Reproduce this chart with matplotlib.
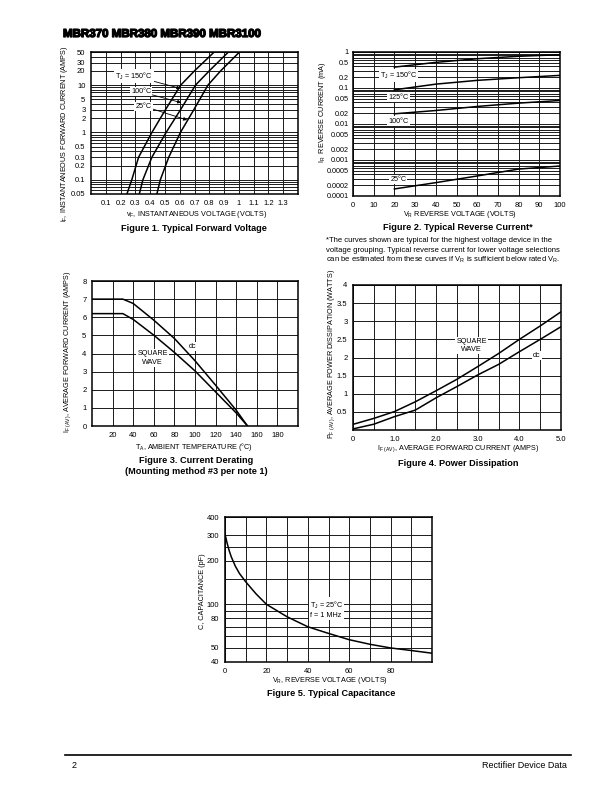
import numpy as np
import matplotlib
matplotlib.use('Agg')
import matplotlib.pyplot as plt
import matplotlib.patheffects as pe

plt.rcParams['font.family'] = ['Liberation Sans Narrow', 'Liberation Sans', 'DejaVu Sans']
plt.rcParams['mathtext.fontset'] = 'custom'
plt.rcParams['mathtext.rm'] = 'Liberation Sans'

W, H = 610, 793

# Figure 1 - forward voltage (volts) vs current (amps)
fwd_i = [0.045, 0.1, 0.3, 1, 3, 10, 20, 60]
fwd_v150 = [0.238, 0.276, 0.322, 0.412, 0.503, 0.607, 0.70, 0.86]
fwd_v100 = [0.323, 0.351, 0.412, 0.508, 0.605, 0.707, 0.80, 0.955]
fwd_v25 = [0.442, 0.469, 0.526, 0.605, 0.695, 0.791, 0.877, 1.03]

# Figure 2 - reverse current (mA) vs reverse voltage
rev_v = [20, 40, 60, 80, 100]
rev_i150 = [0.38, 0.515, 0.65, 0.76, 0.84]
rev_i125 = [0.089, 0.128, 0.163, 0.193, 0.224]
rev_i100 = [0.0192, 0.0237, 0.0307, 0.038, 0.045]
rev_i25 = [0.000157, 0.000235, 0.00036, 0.00056, 0.00068]

# Figure 3 - current derating
der_t = [0, 30, 40, 60, 80, 100, 120, 140, 151]
der_dc = [7.0, 7.0, 6.76, 5.84, 4.83, 3.6, 2.25, 0.87, 0]
der_sq = [6.2, 6.2, 5.88, 5.01, 4.06, 3.04, 1.88, 0.72, 0]

# Figure 4 - power dissipation
pd_i = [0, 0.5, 1.0, 1.5, 2.0, 2.5, 3.0, 3.5, 4.0, 4.5, 5.0]
pd_sq = [0.156, 0.32, 0.51, 0.78, 1.085, 1.40, 1.75, 2.11, 2.50, 2.87, 3.26]
pd_dc = [0.03, 0.16, 0.37, 0.55, 0.89, 1.2, 1.52, 1.81, 2.16, 2.5, 2.85]

# Figure 5 - capacitance
cap_v = [0, 1, 2, 3, 5, 7, 10, 15, 20, 30, 40, 50, 60, 70, 80, 90, 100]
cap_c = [305, 265, 235, 213, 183, 163, 143, 118, 100, 82, 70, 63, 57, 53, 50, 48, 46]

fig = plt.figure(figsize=(W / 100, H / 100), dpi=100)

TICK = 5.5
LAB = 5.2
CAP = 6.6
GRID = dict(color='#1a1a1a', lw=0.7)


def px_axes(l, t, r, b):
    return fig.add_axes([l / W, 1 - b / H, (r - l) / W, (b - t) / H])


def ftext(x, y, s, **kw):
    kw.setdefault('ha', 'center')
    kw.setdefault('va', 'center')
    return fig.text(x / W, 1 - y / H, s, **kw)


def style(ax):
    for sp in ax.spines.values():
        sp.set_linewidth(1.1)
    ax.tick_params(length=0, labelsize=TICK, pad=4)
    ax.tick_params(which='minor', length=0)


def box():
    return dict(boxstyle='square,pad=0.15', fc='white', ec='none')


def arrow(ax, txt, xy, xytext):
    ax.annotate(txt, xy=xy, xytext=xytext, fontsize=LAB, ha='left', va='center',
                bbox=box(),
                arrowprops=dict(arrowstyle='-|>', lw=0.6, color='black',
                                mutation_scale=5, shrinkA=0, shrinkB=0))


t = ftext(63, 34, 'MBR370 MBR380 MBR390 MBR3100', ha='left', fontsize=8.3,
          fontweight='bold', family=['Liberation Sans'])
t.set_path_effects([pe.withStroke(linewidth=0.9, foreground='black')])

# ---- Figure 1
ax = px_axes(91, 52, 298, 194)
ax.set_yscale('log')
ax.set_xlim(0, 1.4)
ax.set_ylim(0.05, 50)
xt = [0.1, 0.2, 0.3, 0.4, 0.5, 0.6, 0.7, 0.8, 0.9, 1.0, 1.1, 1.2, 1.3]
ax.set_xticks(xt)
ax.set_xticklabels(['0.1', '0.2', '0.3', '0.4', '0.5', '0.6', '0.7', '0.8', '0.9', '1', '1.1', '1.2', '1.3'])
yt = [0.05, 0.1, 0.2, 0.3, 0.5, 1, 2, 3, 5, 10, 20, 30, 50]
ax.set_yticks(yt)
ax.set_yticklabels(['0.05', '0.1', '0.2', '0.3', '0.5', '1', '2', '3', '5', '10', '20', '30', '50'])
ax.yaxis.set_minor_locator(matplotlib.ticker.LogLocator(subs=np.arange(1, 10)))
ax.yaxis.set_minor_formatter(matplotlib.ticker.NullFormatter())
ax.grid(True, which='both', **GRID)
style(ax)
for v in (fwd_v150, fwd_v100, fwd_v25):
    ax.plot(v, fwd_i, color='black', lw=1.1)
arrow(ax, 'T$\\mathregular{_J}$ = 150°C', (0.605, 8.5), (0.165, 15.5))
arrow(ax, '100°C', (0.61, 4.25), (0.27, 7.2))
arrow(ax, '25°C', (0.65, 1.83), (0.30, 3.6))
ftext(64, 134, 'i$\\mathregular{_F}$, INSTANTANEOUS FORWARD CURRENT (AMPS)', rotation=90, fontsize=LAB)
ftext(197, 214, 'v$\\mathregular{_F}$, INSTANTANEOUS VOLTAGE (VOLTS)', fontsize=LAB)
ftext(194, 229, 'Figure 1. Typical Forward Voltage', fontsize=CAP, fontweight='bold')

# ---- Figure 2
ax = px_axes(353, 52, 560, 196)
ax.set_yscale('log')
ax.set_xlim(0, 100)
ax.set_ylim(0.0001, 1)
ax.set_xticks(range(0, 101, 10))
yt = [0.0001, 0.0002, 0.0005, 0.001, 0.002, 0.005, 0.01, 0.02, 0.05, 0.1, 0.2, 0.5, 1]
ax.set_yticks(yt)
ax.set_yticklabels(['0.0001', '0.0002', '0.0005', '0.001', '0.002', '0.005', '0.01', '0.02',
                    '0.05', '0.1', '0.2', '0.5', '1'])
ax.yaxis.set_minor_locator(matplotlib.ticker.LogLocator(subs=np.arange(1, 10)))
ax.yaxis.set_minor_formatter(matplotlib.ticker.NullFormatter())
ax.grid(True, which='both', **GRID)
style(ax)
ax.tick_params(axis='y', labelsize=5.2, pad=3)
for c in (rev_i150, rev_i125, rev_i100, rev_i25):
    ax.plot(rev_v, c, color='black', lw=1.1)
for s, x, y in [('T$\\mathregular{_J}$ = 150°C', 13, 0.22), ('125°C', 17, 0.056),
                ('100°C', 17, 0.0121), ('25°C', 18, 0.00028)]:
    ax.text(x, y, s, fontsize=LAB, ha='left', va='center', bbox=box())
ftext(322, 112, 'I$\\mathregular{_R}$  REVERSE CURRENT (mA)', rotation=90, fontsize=LAB)
ftext(460, 214, 'V$\\mathregular{_R}$ REVERSE VOLTAGE (VOLTS)', fontsize=LAB)
ftext(458, 228, 'Figure 2. Typical Reverse Current*', fontsize=CAP, fontweight='bold')
note = ['*The curves shown are typical for the highest voltage device in the',
        'voltage grouping. Typical reverse current for lower voltage selections',
        'can be estimated from these curves if V$\\mathregular{_R}$ is sufficient below rated V$\\mathregular{_R}$.']
for k, line in enumerate(note):
    ftext(326, 240 + 10 * k, line, ha='left', fontsize=5.5)

# ---- Figure 3
ax = px_axes(92, 281, 298, 426)
ax.set_xlim(0, 200)
ax.set_ylim(0, 8)
ax.set_xticks(range(20, 181, 20))
ax.set_yticks(range(0, 9))
ax.grid(True, **GRID)
style(ax)
ax.plot(der_t, der_dc, color='black', lw=1.1)
ax.plot(der_t, der_sq, color='black', lw=1.1)
ax.text(98, 4.37, 'dc', fontsize=LAB, ha='center', va='center', bbox=box())
ax.text(59, 3.75, 'SQUARE\nWAVE', fontsize=LAB, ha='center', va='center', bbox=box(), linespacing=1.3)
ftext(68, 352, 'I$\\mathregular{_{F\\ (AV)}}$, AVERAGE FORWARD CURRENT (AMPS)', rotation=90, fontsize=LAB)
ftext(194, 447, 'T$\\mathregular{_A}$, AMBIENT TEMPERATURE (°C)', fontsize=LAB)
ftext(196, 460, 'Figure 3. Current Derating', fontsize=CAP, fontweight='bold')
ftext(196, 472, '(Mounting method #3 per note 1)', fontsize=CAP, fontweight='bold')

# ---- Figure 4
ax = px_axes(353, 285, 561, 430)
ax.set_xlim(0, 5)
ax.set_ylim(0, 4)
ax.set_xticks(np.arange(0, 5.01, 0.5))
ax.set_xticklabels(['0', '', '1.0', '', '2.0', '', '3.0', '', '4.0', '', '5.0'])
ax.set_yticks(np.arange(0, 4.01, 0.5))
ax.set_yticklabels(['', '0.5', '1', '1.5', '2', '2.5', '3', '3.5', '4'])
ax.grid(True, **GRID)
style(ax)
ax.plot(pd_i, pd_sq, color='black', lw=1.1)
ax.plot(pd_i, pd_dc, color='black', lw=1.1)
ax.text(2.85, 2.33, 'SQUARE\nWAVE', fontsize=LAB, ha='center', va='center', bbox=box(), linespacing=1.3)
ax.text(4.42, 2.05, 'dc', fontsize=LAB, ha='center', va='center', bbox=box())
ftext(332, 354, 'P$\\mathregular{_{F\\ (AV)}}$, AVERAGE POWER DISSIPATION (WATTS)', rotation=90, fontsize=LAB)
ftext(458, 449, 'I$\\mathregular{_{F\\ (AV)}}$, AVERAGE FORWARD CURRENT (AMPS)', fontsize=LAB)
ftext(458, 463, 'Figure 4. Power Dissipation', fontsize=CAP, fontweight='bold')

# ---- Figure 5
ax = px_axes(225, 517, 432, 662)
ax.set_yscale('log')
ax.set_xlim(0, 100)
ax.set_ylim(40, 400)
ax.set_xticks(range(0, 101, 10))
ax.set_xticklabels(['0', '', '20', '', '40', '', '60', '', '80', '', ''])
ax.set_yticks([40, 50, 60, 70, 80, 90, 100, 150, 200, 250, 300, 400])
ax.set_yticklabels(['40', '50', '', '', '80', '', '100', '', '200', '', '300', '400'])
ax.yaxis.set_minor_locator(matplotlib.ticker.NullLocator())
ax.grid(True, **GRID)
style(ax)
ax.plot(cap_v, cap_c, color='black', lw=1.1)
ax.text(41, 92, 'T$\\mathregular{_J}$ = 25°C\nf = 1 MHz', fontsize=LAB, ha='left', va='center',
        bbox=box(), linespacing=1.3)
ftext(202, 591, 'C, CAPACITANCE (pF)', rotation=90, fontsize=LAB)
ftext(330, 680, 'V$\\mathregular{_R}$, REVERSE VOLTAGE (VOLTS)', fontsize=LAB)
ftext(331, 693, 'Figure 5. Typical Capacitance', fontsize=CAP, fontweight='bold')

# ---- footer
fig.add_artist(plt.Line2D([65 / W, 571 / W], [1 - 755 / H, 1 - 755 / H], color='black', lw=1.2))
ftext(72, 766, '2', ha='left', fontsize=6.5)
ftext(567, 766, 'Rectifier Device Data', ha='right', fontsize=6.5)

fig.savefig('out.png', dpi=100)
